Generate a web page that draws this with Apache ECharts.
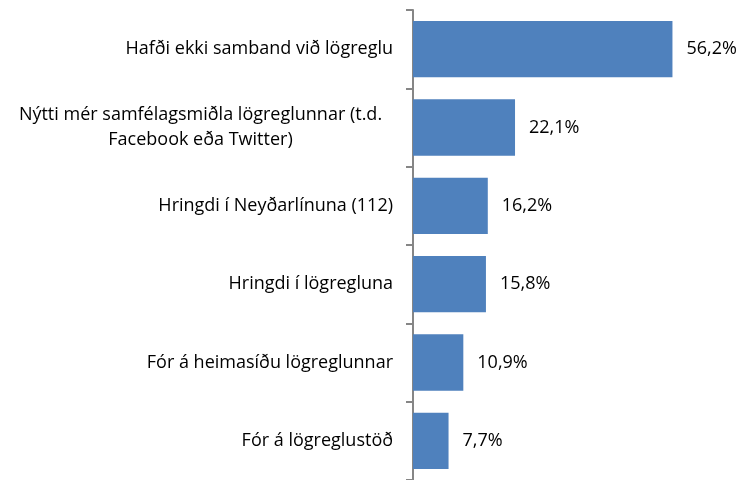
<!DOCTYPE html>
<html>
<head>
<meta charset="utf-8">
<script src="https://cdn.jsdelivr.net/npm/echarts@6/dist/echarts.min.js"></script>
<style>
  html, body { margin: 0; padding: 0; background: #fff; }
  #chart { width: 745px; height: 480px; }
</style>
</head>
<body>
<div id="chart"></div>
<script>
// flokkar, efst til neðst
const categories = [
    'Hafði ekki samband við lögreglu',
    'Nýtti mér samfélagsmiðla lögreglunnar (t.d.\nFacebook eða Twitter)',
    'Hringdi í Neyðarlínuna (112)',
    'Hringdi í lögregluna',
    'Fór á heimasíðu lögreglunnar',
    'Fór á lögreglustöð',
]
const values = [56.2, 22.1, 16.2, 15.8, 10.9, 7.7]

const FONT = '"Open Sans", sans-serif'

const chart = echarts.init(document.getElementById('chart'))

const option = {
    animation: false,
    grid: {
        left: 413,
        right: 55,
        top: 10,
        bottom: 0,
    },
    xAxis: {
        type: 'value',
        min: 0,
        max: 60,
        show: false,
    },
    yAxis: {
        type: 'category',
        inverse: true,
        data: categories,
        axisLine: {
            show: true,
            lineStyle: { color: '#868686', width: 2 },
        },
        axisTick: {
            show: true,
            length: 7,
            lineStyle: { color: '#868686', width: 2 },
        },
        axisLabel: {
            margin: 20,
            fontFamily: FONT,
            fontSize: 18,
            color: '#000',
            lineHeight: 25,
            formatter: (v) => {
                if (v.indexOf('\n') < 0) return v
                return v.split('\n').map((s) => `{c|${s}}`).join('\n')
            },
            rich: {
                c: {
                    width: 385,
                    align: 'center',
                    fontFamily: FONT,
                    fontSize: 18,
                    color: '#000',
                    lineHeight: 25,
                },
            },
        },
    },
    series: [
        {
            type: 'bar',
            data: values,
            barCategoryGap: '28%',
            itemStyle: {
                color: '#4F81BD',
            },
            label: {
                show: true,
                position: 'right',
                distance: 14,
                fontFamily: FONT,
                fontSize: 18,
                color: '#000',
                formatter: (p) => p.value.toFixed(1).replace('.', ',') + '%',
            },
        },
    ],
}

chart.setOption(option)
</script>
</body>
</html>
